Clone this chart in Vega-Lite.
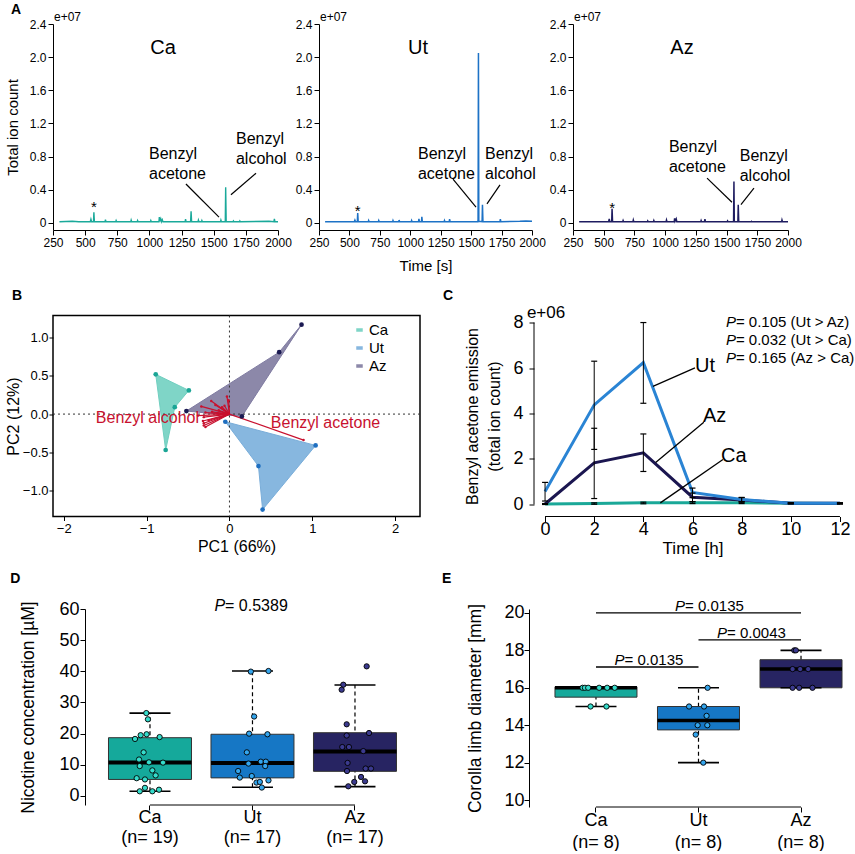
{
"$schema": "https://vega.github.io/schema/vega-lite/v6.json",
"background": "white",
"padding": {"left": 4, "top": 3, "right": 0, "bottom": 0},
"config": {
  "font": "Liberation Sans",
  "view": {"stroke": null},
  "axis": {"grid": false, "domainColor": "#000", "tickColor": "#000", "labelColor": "#000", "titleColor": "#000", "titleFontWeight": "normal", "labelFont": "Liberation Sans", "titleFont": "Liberation Sans", "labelFlush": false, "labelOverlap": false, "domainWidth": 1, "tickWidth": 1, "tickCount": 20},
  "title": {"font": "Liberation Sans", "fontWeight": "bold", "fontSize": 14, "anchor": "start", "frame": "group", "color": "#000"},
  "text": {"font": "Liberation Sans", "color": "#000"}
},
"datasets": {
  "chrom": [
    {"s":"Ca","t":300,"v":0.015},{"s":"Ca","t":400,"v":0.02},{"s":"Ca","t":450,"v":0.015},{"s":"Ca","t":540,"v":0.015},{"s":"Ca","t":545,"v":0.045},{"s":"Ca","t":550,"v":0.015},{"s":"Ca","t":565,"v":0.015},{"s":"Ca","t":568,"v":0.13},{"s":"Ca","t":572,"v":0.015},{"s":"Ca","t":655,"v":0.015},{"s":"Ca","t":658,"v":0.04},{"s":"Ca","t":662,"v":0.015},{"s":"Ca","t":738,"v":0.015},{"s":"Ca","t":741,"v":0.03},{"s":"Ca","t":745,"v":0.015},{"s":"Ca","t":855,"v":0.015},{"s":"Ca","t":858,"v":0.035},{"s":"Ca","t":862,"v":0.015},{"s":"Ca","t":905,"v":0.015},{"s":"Ca","t":908,"v":0.03},{"s":"Ca","t":912,"v":0.015},{"s":"Ca","t":1008,"v":0.015},{"s":"Ca","t":1011,"v":0.03},{"s":"Ca","t":1015,"v":0.015},{"s":"Ca","t":1074,"v":0.015},{"s":"Ca","t":1077,"v":0.07},{"s":"Ca","t":1081,"v":0.02},{"s":"Ca","t":1088,"v":0.05},{"s":"Ca","t":1093,"v":0.015},{"s":"Ca","t":1100,"v":0.04},{"s":"Ca","t":1105,"v":0.015},{"s":"Ca","t":1278,"v":0.015},{"s":"Ca","t":1281,"v":0.045},{"s":"Ca","t":1285,"v":0.015},{"s":"Ca","t":1320,"v":0.015},{"s":"Ca","t":1324,"v":0.14},{"s":"Ca","t":1328,"v":0.015},{"s":"Ca","t":1378,"v":0.015},{"s":"Ca","t":1381,"v":0.035},{"s":"Ca","t":1385,"v":0.015},{"s":"Ca","t":1405,"v":0.015},{"s":"Ca","t":1408,"v":0.03},{"s":"Ca","t":1412,"v":0.015},{"s":"Ca","t":1553,"v":0.015},{"s":"Ca","t":1556,"v":0.035},{"s":"Ca","t":1560,"v":0.015},{"s":"Ca","t":1590,"v":0.015},{"s":"Ca","t":1593,"v":0.43},{"s":"Ca","t":1597,"v":0.015},{"s":"Ca","t":1650,"v":0.015},{"s":"Ca","t":1653,"v":0.025},{"s":"Ca","t":1657,"v":0.015},{"s":"Ca","t":1700,"v":0.015},{"s":"Ca","t":1703,"v":0.025},{"s":"Ca","t":1707,"v":0.015},{"s":"Ca","t":1930,"v":0.02},{"s":"Ca","t":1968,"v":0.015},{"s":"Ca","t":1972,"v":0.05},{"s":"Ca","t":1976,"v":0.015},{"s":"Ca","t":2000,"v":0.015},
    {"s":"Ut","t":300,"v":0.015},{"s":"Ut","t":540,"v":0.015},{"s":"Ut","t":545,"v":0.035},{"s":"Ut","t":550,"v":0.015},{"s":"Ut","t":565,"v":0.015},{"s":"Ut","t":568,"v":0.12},{"s":"Ut","t":572,"v":0.015},{"s":"Ut","t":655,"v":0.015},{"s":"Ut","t":658,"v":0.03},{"s":"Ut","t":662,"v":0.015},{"s":"Ut","t":738,"v":0.015},{"s":"Ut","t":741,"v":0.03},{"s":"Ut","t":745,"v":0.015},{"s":"Ut","t":855,"v":0.015},{"s":"Ut","t":858,"v":0.03},{"s":"Ut","t":862,"v":0.015},{"s":"Ut","t":905,"v":0.015},{"s":"Ut","t":908,"v":0.035},{"s":"Ut","t":912,"v":0.015},{"s":"Ut","t":1008,"v":0.015},{"s":"Ut","t":1011,"v":0.03},{"s":"Ut","t":1015,"v":0.015},{"s":"Ut","t":1068,"v":0.015},{"s":"Ut","t":1071,"v":0.05},{"s":"Ut","t":1075,"v":0.015},{"s":"Ut","t":1092,"v":0.015},{"s":"Ut","t":1095,"v":0.075},{"s":"Ut","t":1099,"v":0.015},{"s":"Ut","t":1278,"v":0.015},{"s":"Ut","t":1281,"v":0.03},{"s":"Ut","t":1285,"v":0.015},{"s":"Ut","t":1320,"v":0.015},{"s":"Ut","t":1323,"v":0.045},{"s":"Ut","t":1327,"v":0.015},{"s":"Ut","t":1555,"v":0.015},{"s":"Ut","t":1557,"v":0.04},{"s":"Ut","t":1560,"v":2.05},{"s":"Ut","t":1563,"v":0.02},{"s":"Ut","t":1590,"v":0.015},{"s":"Ut","t":1593,"v":0.22},{"s":"Ut","t":1597,"v":0.015},{"s":"Ut","t":1737,"v":0.015},{"s":"Ut","t":1740,"v":0.045},{"s":"Ut","t":1744,"v":0.015},{"s":"Ut","t":1900,"v":0.02},{"s":"Ut","t":1950,"v":0.025},{"s":"Ut","t":2000,"v":0.02},
    {"s":"Az","t":300,"v":0.015},{"s":"Az","t":540,"v":0.015},{"s":"Az","t":545,"v":0.05},{"s":"Az","t":550,"v":0.015},{"s":"Az","t":565,"v":0.015},{"s":"Az","t":568,"v":0.17},{"s":"Az","t":572,"v":0.015},{"s":"Az","t":655,"v":0.015},{"s":"Az","t":658,"v":0.03},{"s":"Az","t":662,"v":0.015},{"s":"Az","t":738,"v":0.015},{"s":"Az","t":741,"v":0.035},{"s":"Az","t":745,"v":0.015},{"s":"Az","t":855,"v":0.015},{"s":"Az","t":858,"v":0.025},{"s":"Az","t":862,"v":0.015},{"s":"Az","t":905,"v":0.015},{"s":"Az","t":908,"v":0.03},{"s":"Az","t":912,"v":0.015},{"s":"Az","t":1008,"v":0.015},{"s":"Az","t":1011,"v":0.035},{"s":"Az","t":1015,"v":0.015},{"s":"Az","t":1074,"v":0.015},{"s":"Az","t":1077,"v":0.055},{"s":"Az","t":1081,"v":0.02},{"s":"Az","t":1090,"v":0.05},{"s":"Az","t":1095,"v":0.015},{"s":"Az","t":1290,"v":0.015},{"s":"Az","t":1293,"v":0.03},{"s":"Az","t":1297,"v":0.015},{"s":"Az","t":1320,"v":0.015},{"s":"Az","t":1324,"v":0.045},{"s":"Az","t":1328,"v":0.015},{"s":"Az","t":1505,"v":0.015},{"s":"Az","t":1508,"v":0.025},{"s":"Az","t":1512,"v":0.015},{"s":"Az","t":1557,"v":0.015},{"s":"Az","t":1560,"v":0.5},{"s":"Az","t":1563,"v":0.015},{"s":"Az","t":1592,"v":0.015},{"s":"Az","t":1595,"v":0.22},{"s":"Az","t":1599,"v":0.015},{"s":"Az","t":1700,"v":0.015},{"s":"Az","t":1703,"v":0.02},{"s":"Az","t":1707,"v":0.015},{"s":"Az","t":1948,"v":0.015},{"s":"Az","t":1951,"v":0.035},{"s":"Az","t":1955,"v":0.015},{"s":"Az","t":2000,"v":0.015}
  ],
  "aLead": [
    {"s":"Ca","x":1284,"y":0.47,"x2":1541,"y2":0.07},{"s":"Ca","x":1829,"y":0.60,"x2":1634,"y2":0.34},
    {"s":"Ut","x":1351,"y":0.53,"x2":1540,"y2":0.19},{"s":"Ut","x":1737,"y":0.46,"x2":1630,"y2":0.23},
    {"s":"Az","x":1341,"y":0.54,"x2":1544,"y2":0.25},{"s":"Az","x":1723,"y":0.42,"x2":1617,"y2":0.22}
  ],
  "aLab": [
    {"s":"Ca","x":997,"y":0.93,"label":"Benzyl\nacetone"},{"s":"Ca","x":1673,"y":1.11,"label":"Benzyl\nalcohol"},
    {"s":"Ut","x":1063,"y":0.93,"label":"Benzyl\nacetone"},{"s":"Ut","x":1614,"y":0.93,"label":"Benzyl\nalcohol"},
    {"s":"Az","x":1031,"y":1.01,"label":"Benzyl\nacetone"},{"s":"Az","x":1607,"y":0.91,"label":"Benzyl\nalcohol"}
  ],
  "aStar": [{"s":"Ca","x":568,"y":0.19},{"s":"Ut","x":568,"y":0.14},{"s":"Az","x":568,"y":0.18}],
  "aTitle": [{"s":"Ca","x":1106,"y":2.11},{"s":"Ut","x":1063,"y":2.11},{"s":"Az","x":1137,"y":2.11}],
  "bPoly": [
    {"g":"Ca","o":1,"x":-0.89,"y":0.52},{"g":"Ca","o":2,"x":-0.49,"y":0.31},{"g":"Ca","o":3,"x":-0.66,"y":0.09},{"g":"Ca","o":4,"x":-0.77,"y":-0.47},
    {"g":"Ut","o":1,"x":-0.05,"y":-0.10},{"g":"Ut","o":2,"x":1.04,"y":-0.41},{"g":"Ut","o":3,"x":0.40,"y":-1.25},{"g":"Ut","o":4,"x":0.35,"y":-0.68},
    {"g":"Az","o":1,"x":-0.52,"y":0.04},{"g":"Az","o":2,"x":0.60,"y":0.81},{"g":"Az","o":3,"x":0.87,"y":1.17},{"g":"Az","o":4,"x":0.15,"y":-0.03}
  ],
  "bArrow": [
    {"x":-0.34,"y":0.10},{"x":-0.22,"y":0.17},{"x":-0.17,"y":0.12},{"x":-0.09,"y":0.09},{"x":-0.06,"y":0.11},{"x":-0.03,"y":0.23},{"x":-0.01,"y":0.18},{"x":-0.29,"y":0.02},{"x":-0.31,"y":-0.04},{"x":-0.32,"y":-0.09},{"x":-0.31,"y":-0.12},{"x":-0.31,"y":-0.15},{"x":-0.29,"y":-0.17},{"x":-0.25,"y":-0.08},{"x":-0.21,"y":0.03},{"x":-0.13,"y":0.05},{"x":-0.38,"y":-0.02},{"x":0.895,"y":-0.34}
  ],
  "bLab": [{"x":-0.99,"y":-0.056,"label":"Benzyl alcohol"},{"x":1.16,"y":-0.12,"label":"Benzyl acetone"}],
  "cLine": [
    {"g":"Ca","t":0,"v":0.02},{"g":"Ca","t":2,"v":0.04},{"g":"Ca","t":4,"v":0.07},{"g":"Ca","t":6,"v":0.08},{"g":"Ca","t":8,"v":0.08},{"g":"Ca","t":10,"v":0.05},{"g":"Ca","t":12,"v":0.04},
    {"g":"Az","t":0,"v":0.02},{"g":"Az","t":2,"v":1.83},{"g":"Az","t":4,"v":2.27},{"g":"Az","t":6,"v":0.32},{"g":"Az","t":8,"v":0.2},{"g":"Az","t":10,"v":0.05},{"g":"Az","t":12,"v":0.05},
    {"g":"Ut","t":0,"v":0.57},{"g":"Ut","t":2,"v":4.38},{"g":"Ut","t":4,"v":6.24},{"g":"Ut","t":6,"v":0.53},{"g":"Ut","t":8,"v":0.22},{"g":"Ut","t":10,"v":0.05},{"g":"Ut","t":12,"v":0.05}
  ],
  "cErr": [
    {"g":"Ut","t":0,"lo":0.15,"hi":0.97},{"g":"Ut","t":2,"lo":2.42,"hi":6.3},{"g":"Ut","t":4,"lo":4.45,"hi":8.0},{"g":"Ut","t":6,"lo":0.3,"hi":0.72},{"g":"Ut","t":8,"lo":0.12,"hi":0.31},{"g":"Ut","t":10,"lo":0.03,"hi":0.07},{"g":"Ut","t":12,"lo":0.03,"hi":0.07},
    {"g":"Az","t":0,"lo":0.0,"hi":0.04},{"g":"Az","t":2,"lo":0.26,"hi":3.35},{"g":"Az","t":4,"lo":1.45,"hi":3.1},{"g":"Az","t":6,"lo":0.12,"hi":0.5},{"g":"Az","t":8,"lo":0.1,"hi":0.3},{"g":"Az","t":10,"lo":0.03,"hi":0.07},{"g":"Az","t":12,"lo":0.03,"hi":0.07},
    {"g":"Ca","t":0,"lo":0.0,"hi":0.03},{"g":"Ca","t":2,"lo":0.01,"hi":0.07},{"g":"Ca","t":4,"lo":0.03,"hi":0.1},{"g":"Ca","t":6,"lo":0.04,"hi":0.12},{"g":"Ca","t":8,"lo":0.04,"hi":0.12},{"g":"Ca","t":10,"lo":0.02,"hi":0.08},{"g":"Ca","t":12,"lo":0.02,"hi":0.07}
  ],
  "cLead": [{"x":6.10,"y":6.01,"x2":4.39,"y2":5.19},{"x":6.46,"y":3.62,"x2":4.50,"y2":1.85},{"x":7.24,"y":1.98,"x2":4.69,"y2":0.07}],
  "cLab": [{"x":6.51,"y":6.07,"label":"Ut"},{"x":6.90,"y":3.91,"label":"Az"},{"x":7.68,"y":2.15,"label":"Ca"}],
  "cP": [{"x":7.36,"y":8.01,"r":"= 0.105 (Ut > Az)"},{"x":7.36,"y":7.25,"r":"= 0.032 (Ut > Ca)"},{"x":7.36,"y":6.46,"r":"= 0.165 (Az > Ca)"}],
  "cAxY": [{"x":-0.45,"lo":0,"hi":8}],
  "cAxX": [{"a":0,"b":12,"y":-0.53}],
  "dBox": [{"g":"Ca","q1":5.3,"med":10.7,"q3":18.7,"lo":1.5,"hi":26.6},{"g":"Ut","q1":5.8,"med":10.6,"q3":19.8,"lo":2.8,"hi":40.1},{"g":"Az","q1":7.9,"med":14.3,"q3":20.3,"lo":3.0,"hi":35.6}],
  "dPts": [
    {"g":"Ca","v":26.6,"j":-0.036},{"g":"Ca","v":24.6,"j":-0.02},{"g":"Ca","v":18.3,"j":-0.146},{"g":"Ca","v":19.5,"j":-0.091},{"g":"Ca","v":19.8,"j":-0.033},{"g":"Ca","v":18.9,"j":0.094},{"g":"Ca","v":14.0,"j":-0.062},{"g":"Ca","v":11.7,"j":-0.107},{"g":"Ca","v":10.8,"j":-0.01},{"g":"Ca","v":10.7,"j":0.127},{"g":"Ca","v":9.6,"j":-0.1},{"g":"Ca","v":8.2,"j":0.023},{"g":"Ca","v":6.6,"j":0.055},{"g":"Ca","v":5.7,"j":-0.13},{"g":"Ca","v":5.3,"j":-0.049},{"g":"Ca","v":2.6,"j":-0.049},{"g":"Ca","v":1.5,"j":-0.1},{"g":"Ca","v":1.5,"j":0.023},{"g":"Ca","v":2.0,"j":0.088},
    {"g":"Ut","v":39.9,"j":-0.016},{"g":"Ut","v":40.1,"j":0.156},{"g":"Ut","v":25.5,"j":0.016},{"g":"Ut","v":20.0,"j":-0.033},{"g":"Ut","v":19.8,"j":0.146},{"g":"Ut","v":14.0,"j":-0.055},{"g":"Ut","v":10.4,"j":-0.039},{"g":"Ut","v":11.0,"j":0.081},{"g":"Ut","v":11.0,"j":0.13},{"g":"Ut","v":9.6,"j":0.124},{"g":"Ut","v":8.0,"j":-0.14},{"g":"Ut","v":5.9,"j":-0.124},{"g":"Ut","v":6.4,"j":-0.007},{"g":"Ut","v":4.3,"j":0.039},{"g":"Ut","v":4.5,"j":0.072},{"g":"Ut","v":5.0,"j":0.156},{"g":"Ut","v":2.7,"j":0.091},
    {"g":"Az","v":41.6,"j":0.114},{"g":"Az","v":35.7,"j":-0.114},{"g":"Az","v":34.1,"j":-0.13},{"g":"Az","v":23.0,"j":-0.081},{"g":"Az","v":20.2,"j":0.137},{"g":"Az","v":19.4,"j":-0.081},{"g":"Az","v":15.7,"j":-0.124},{"g":"Az","v":15.7,"j":-0.059},{"g":"Az","v":14.4,"j":0.081},{"g":"Az","v":10.6,"j":-0.072},{"g":"Az","v":8.0,"j":-0.078},{"g":"Az","v":8.8,"j":0.104},{"g":"Az","v":8.8,"j":0.156},{"g":"Az","v":6.1,"j":0.059},{"g":"Az","v":4.5,"j":-0.007},{"g":"Az","v":4.7,"j":0.098},{"g":"Az","v":3.1,"j":-0.065}
  ],
  "dP": [{"g":"Ut","off":-0.37,"y":60.96,"r":"= 0.5389"}],
  "dAx": [{"a":"Ca","b":"Az","y":-2.9}],
  "eBox": [{"g":"Ca","q1":15.5,"med":16,"q3":16.05,"lo":15,"hi":16},{"g":"Ut","q1":13.75,"med":14.25,"q3":15,"lo":12,"hi":16},{"g":"Az","q1":16,"med":17,"q3":17.5,"lo":16,"hi":18}],
  "ePts": [
    {"g":"Ca","v":16,"j":-0.136},{"g":"Ca","v":16,"j":-0.113},{"g":"Ca","v":16,"j":-0.081},{"g":"Ca","v":16,"j":0.026},{"g":"Ca","v":16,"j":0.104},{"g":"Ca","v":16,"j":0.178},{"g":"Ca","v":15,"j":-0.058},{"g":"Ca","v":15,"j":0.097},
    {"g":"Ut","v":16,"j":0.084},{"g":"Ut","v":15,"j":-0.097},{"g":"Ut","v":15,"j":0.049},{"g":"Ut","v":14.5,"j":0.074},{"g":"Ut","v":14,"j":-0.013},{"g":"Ut","v":14,"j":0.081},{"g":"Ut","v":13.5,"j":-0.032},{"g":"Ut","v":12,"j":0.042},
    {"g":"Az","v":18,"j":-0.071},{"g":"Az","v":18,"j":-0.055},{"g":"Az","v":17,"j":-0.087},{"g":"Az","v":17,"j":-0.013},{"g":"Az","v":17,"j":0.065},{"g":"Az","v":16,"j":-0.087},{"g":"Az","v":16,"j":-0.023},{"g":"Az","v":16,"j":0.107}
  ],
  "eAx": [{"a":"Ca","b":"Az","y":9.63}],
  "eSig": [{"a":"Ca","b":"Az","y":20},{"a":"Ut","b":"Az","y":18.56},{"a":"Ca","b":"Ut","y":17.11}],
  "eP": [{"g":"Ut","off":-0.234,"y":20.38,"r":"= 0.0135"},{"g":"Ut","off":0.176,"y":18.93,"r":"= 0.0043"},{"g":"Ca","off":0.176,"y":17.49,"r":"= 0.0135"}]
},
"columns": 1,
"align": "none",
"spacing": 14.5,
"resolve": {"scale": {"color": "independent", "fill": "independent", "stroke": "independent"}},
"concat": [
 {
  "spacing": 3,
  "resolve": {"scale": {"color": "independent", "fill": "independent", "stroke": "independent"}},
  "hconcat": [
   {
    "width": 225, "height": 206,
    "title": {"text": "A", "dx": -42, "offset": -6},
    "layer": [
      {"data": {"name": "chrom"}, "transform": [{"filter": "datum.s == 'Ca'"}],
       "mark": {"type": "line", "strokeWidth": 1.4, "color": "#1aa99a"},
       "encoding": {
         "x": {"field": "t", "type": "quantitative", "scale": {"domain": [250, 2000], "nice": false, "zero": false},
               "axis": {"values": [250,500,750,1000,1250,1500,1750,2000], "tickCount": 20, "format": "d", "labelOverlap": false, "labelFontSize": 12, "tickSize": 5, "labelPadding": 2, "title": null}},
         "y": {"field": "v", "type": "quantitative", "scale": {"domain": [-0.085, 2.4], "nice": false, "zero": false},
               "axis": {"values": [0,0.4,0.8,1.2,1.6,2,2.4], "tickCount": 20, "labelOverlap": false, "labelExpr": "datum.value == 0 ? '0' : format(datum.value, '.1f')", "labelFontSize": 12, "tickSize": 5, "labelPadding": 2, "title": "Total ion count", "titleFontSize": 15, "titlePadding": 9}}
       }},
      {"data": {"name": "aLead"}, "transform": [{"filter": "datum.s == 'Ca'"}], "mark": {"type": "rule", "color": "#000", "strokeWidth": 1.2},
       "encoding": {"x": {"field": "x", "type": "quantitative"}, "y": {"field": "y", "type": "quantitative"}, "x2": {"field": "x2"}, "y2": {"field": "y2"}}},
      {"data": {"name": "aLab"}, "transform": [{"filter": "datum.s == 'Ca'"}], "mark": {"type": "text", "fontSize": 16, "lineBreak": "\n", "lineHeight": 20, "baseline": "top", "align": "left"},
       "encoding": {"x": {"field": "x", "type": "quantitative"}, "y": {"field": "y", "type": "quantitative"}, "text": {"field": "label"}}},
      {"data": {"name": "aStar"}, "transform": [{"filter": "datum.s == 'Ca'"}], "mark": {"type": "text", "text": "*", "fontSize": 15, "baseline": "middle", "align": "center"},
       "encoding": {"x": {"field": "x", "type": "quantitative"}, "y": {"field": "y", "type": "quantitative"}}},
      {"data": {"name": "aTitle"}, "transform": [{"filter": "datum.s == 'Ca'"}], "mark": {"type": "text", "fontSize": 20, "baseline": "middle", "align": "center"},
       "encoding": {"x": {"field": "x", "type": "quantitative"}, "y": {"field": "y", "type": "quantitative"}, "text": {"field": "s"}}},
      {"data": {"values": [{}]}, "mark": {"type": "text", "text": "e+07", "fontSize": 12, "align": "left", "baseline": "middle", "dx": 1, "dy": -7},
       "encoding": {"x": {"datum": 250}, "y": {"datum": 2.4}}}
    ]
   },
   {
    "width": 213, "height": 206,
    "layer": [
      {"data": {"name": "chrom"}, "transform": [{"filter": "datum.s == 'Ut'"}],
       "mark": {"type": "line", "strokeWidth": 1.5, "color": "#1d72c6"},
       "encoding": {
         "x": {"field": "t", "type": "quantitative", "scale": {"domain": [250, 2000], "nice": false, "zero": false},
               "axis": {"values": [250,500,750,1000,1250,1500,1750,2000], "tickCount": 20, "format": "d", "labelOverlap": false, "labelFontSize": 12, "tickSize": 5, "labelPadding": 2, "title": "Time [s]", "titleFontSize": 15, "titlePadding": 10}},
         "y": {"field": "v", "type": "quantitative", "scale": {"domain": [-0.085, 2.4], "nice": false, "zero": false},
               "axis": {"values": [0,0.4,0.8,1.2,1.6,2,2.4], "tickCount": 20, "labelOverlap": false, "labelExpr": "datum.value == 0 ? '0' : format(datum.value, '.1f')", "labelFontSize": 12, "tickSize": 5, "labelPadding": 2, "title": null}}
       }},
      {"data": {"name": "aLead"}, "transform": [{"filter": "datum.s == 'Ut'"}], "mark": {"type": "rule", "color": "#000", "strokeWidth": 1.2},
       "encoding": {"x": {"field": "x", "type": "quantitative"}, "y": {"field": "y", "type": "quantitative"}, "x2": {"field": "x2"}, "y2": {"field": "y2"}}},
      {"data": {"name": "aLab"}, "transform": [{"filter": "datum.s == 'Ut'"}], "mark": {"type": "text", "fontSize": 16, "lineBreak": "\n", "lineHeight": 20, "baseline": "top", "align": "left"},
       "encoding": {"x": {"field": "x", "type": "quantitative"}, "y": {"field": "y", "type": "quantitative"}, "text": {"field": "label"}}},
      {"data": {"name": "aStar"}, "transform": [{"filter": "datum.s == 'Ut'"}], "mark": {"type": "text", "text": "*", "fontSize": 15, "baseline": "middle", "align": "center"},
       "encoding": {"x": {"field": "x", "type": "quantitative"}, "y": {"field": "y", "type": "quantitative"}}},
      {"data": {"name": "aTitle"}, "transform": [{"filter": "datum.s == 'Ut'"}], "mark": {"type": "text", "fontSize": 20, "baseline": "middle", "align": "center"},
       "encoding": {"x": {"field": "x", "type": "quantitative"}, "y": {"field": "y", "type": "quantitative"}, "text": {"field": "s"}}},
      {"data": {"values": [{}]}, "mark": {"type": "text", "text": "e+07", "fontSize": 12, "align": "left", "baseline": "middle", "dx": 1, "dy": -7},
       "encoding": {"x": {"datum": 250}, "y": {"datum": 2.4}}}
    ]
   },
   {
    "width": 215, "height": 206,
    "layer": [
      {"data": {"name": "chrom"}, "transform": [{"filter": "datum.s == 'Az'"}],
       "mark": {"type": "line", "strokeWidth": 1.5, "color": "#1e1c60"},
       "encoding": {
         "x": {"field": "t", "type": "quantitative", "scale": {"domain": [250, 2000], "nice": false, "zero": false},
               "axis": {"values": [250,500,750,1000,1250,1500,1750,2000], "tickCount": 20, "format": "d", "labelOverlap": false, "labelFontSize": 12, "tickSize": 5, "labelPadding": 2, "title": null}},
         "y": {"field": "v", "type": "quantitative", "scale": {"domain": [-0.085, 2.4], "nice": false, "zero": false},
               "axis": {"values": [0,0.4,0.8,1.2,1.6,2,2.4], "tickCount": 20, "labelOverlap": false, "labelExpr": "datum.value == 0 ? '0' : format(datum.value, '.1f')", "labelFontSize": 12, "tickSize": 5, "labelPadding": 2, "title": null}}
       }},
      {"data": {"name": "aLead"}, "transform": [{"filter": "datum.s == 'Az'"}], "mark": {"type": "rule", "color": "#000", "strokeWidth": 1.2},
       "encoding": {"x": {"field": "x", "type": "quantitative"}, "y": {"field": "y", "type": "quantitative"}, "x2": {"field": "x2"}, "y2": {"field": "y2"}}},
      {"data": {"name": "aLab"}, "transform": [{"filter": "datum.s == 'Az'"}], "mark": {"type": "text", "fontSize": 16, "lineBreak": "\n", "lineHeight": 20, "baseline": "top", "align": "left"},
       "encoding": {"x": {"field": "x", "type": "quantitative"}, "y": {"field": "y", "type": "quantitative"}, "text": {"field": "label"}}},
      {"data": {"name": "aStar"}, "transform": [{"filter": "datum.s == 'Az'"}], "mark": {"type": "text", "text": "*", "fontSize": 15, "baseline": "middle", "align": "center"},
       "encoding": {"x": {"field": "x", "type": "quantitative"}, "y": {"field": "y", "type": "quantitative"}}},
      {"data": {"name": "aTitle"}, "transform": [{"filter": "datum.s == 'Az'"}], "mark": {"type": "text", "fontSize": 20, "baseline": "middle", "align": "center"},
       "encoding": {"x": {"field": "x", "type": "quantitative"}, "y": {"field": "y", "type": "quantitative"}, "text": {"field": "s"}}},
      {"data": {"values": [{}]}, "mark": {"type": "text", "text": "e+07", "fontSize": 12, "align": "left", "baseline": "middle", "dx": 1, "dy": -7},
       "encoding": {"x": {"datum": 250}, "y": {"datum": 2.4}}}
    ]
   }
  ]
 },
 {
  "spacing": 21,
  "resolve": {"scale": {"color": "independent", "fill": "independent", "stroke": "independent"}},
  "hconcat": [
   {
    "width": 367, "height": 201,
    "view": {"stroke": "#000", "strokeWidth": 1.5},
    "title": {"text": "B", "dx": -41, "offset": 12},
    "layer": [
      {"data": {"name": "bPoly"}, "mark": {"type": "line", "interpolate": "linear-closed", "strokeWidth": 1},
       "encoding": {
         "x": {"field": "x", "type": "quantitative", "scale": {"domain": [-2.13, 2.3], "nice": false, "zero": false},
               "axis": {"values": [-2,-1,0,1,2], "format": "d", "labelOverlap": false, "labelFontSize": 13, "tickSize": 4, "labelPadding": 2, "title": "PC1 (66%)", "titleFontSize": 16, "titlePadding": 3, "domain": false}},
         "y": {"field": "y", "type": "quantitative", "scale": {"domain": [-1.34, 1.29], "nice": false, "zero": false},
               "axis": {"values": [-1,-0.5,0,0.5,1], "format": ".1f", "labelOverlap": false, "labelFontSize": 13, "tickSize": 4, "labelPadding": 1, "title": "PC2 (12%)", "titleFontSize": 16, "titlePadding": 1, "domain": false}},
         "order": {"field": "o"},
         "fill": {"field": "g", "type": "nominal", "scale": {"domain": ["Ca","Ut","Az"], "range": ["#7fd5c7","#87b7df","#8c88a9"]},
                  "legend": {"title": null, "orient": "none", "legendX": 299, "legendY": 7, "symbolType": "M-0.5,-0.27L0.5,-0.27L0.5,0.27L-0.5,0.27Z", "symbolSize": 169, "symbolStrokeWidth": 0, "labelFontSize": 15, "labelOffset": 2, "rowPadding": 2, "padding": 0}},
         "stroke": {"field": "g", "type": "nominal", "scale": {"domain": ["Ca","Ut","Az"], "range": ["#70cfc0","#79add9","#7f7ba1"]}, "legend": null}
       }},
      {"data": {"values": [{}]}, "mark": {"type": "rule", "strokeDash": [2,3], "color": "#333", "strokeWidth": 1}, "encoding": {"x": {"datum": 0}}},
      {"data": {"values": [{}]}, "mark": {"type": "rule", "strokeDash": [2,3], "color": "#333", "strokeWidth": 1}, "encoding": {"y": {"datum": 0}}},
      {"data": {"name": "bArrow"}, "mark": {"type": "rule", "color": "#c8102e", "strokeWidth": 1.2},
       "encoding": {"x": {"field": "x", "type": "quantitative"}, "y": {"field": "y", "type": "quantitative"}, "x2": {"datum": 0}, "y2": {"datum": 0}}},
      {"data": {"name": "bArrow"}, "mark": {"type": "circle", "color": "#c8102e", "size": 6, "opacity": 1},
       "encoding": {"x": {"field": "x", "type": "quantitative"}, "y": {"field": "y", "type": "quantitative"}}},
      {"data": {"name": "bPoly"}, "mark": {"type": "circle", "size": 22, "opacity": 1},
       "encoding": {"x": {"field": "x", "type": "quantitative"}, "y": {"field": "y", "type": "quantitative"},
                    "color": {"field": "g", "type": "nominal", "scale": {"domain": ["Ca","Ut","Az"], "range": ["#1aa595","#1f6fc0","#1b1a52"]}, "legend": null}}},
      {"data": {"name": "bLab"}, "mark": {"type": "text", "color": "#c8102e", "fontSize": 16, "align": "center", "baseline": "middle"},
       "encoding": {"x": {"field": "x", "type": "quantitative"}, "y": {"field": "y", "type": "quantitative"}, "text": {"field": "label"}}}
    ]
   },
   {
    "width": 317, "height": 201,
    "title": {"text": "C", "dx": -91, "offset": 0.5},
    "layer": [
      {"data": {"name": "cLine"}, "mark": {"type": "line", "strokeWidth": 3},
       "encoding": {
         "x": {"field": "t", "type": "quantitative", "scale": {"domain": [-0.45, 12.45], "nice": false, "zero": false},
               "axis": {"values": [0,2,4,6,8,10,12], "format": "d", "labelOverlap": false, "domain": false, "labelFontSize": 18, "tickSize": 5, "labelPadding": -1, "title": "Time [h]", "titleFontSize": 17, "titlePadding": 2}},
         "y": {"field": "v", "type": "quantitative", "scale": {"domain": [-0.53, 8.31], "nice": false, "zero": false},
               "axis": {"values": [0,2,4,6,8], "format": "d", "labelOverlap": false, "domain": false, "labelFontSize": 18, "tickSize": 5, "labelPadding": 6, "title": ["Benzyl acetone emission", "(total ion count)"], "titleFontSize": 16, "titleLineHeight": 22, "titlePadding": 10}},
         "color": {"field": "g", "type": "nominal", "scale": {"domain": ["Ca","Az","Ut"], "range": ["#1aa898","#1b1650","#2a84d4"]}, "legend": null}
       }},
      {"data": {"name": "cAxY"}, "mark": {"type": "rule", "color": "#000", "strokeWidth": 1},
       "encoding": {"x": {"field": "x", "type": "quantitative"}, "y": {"field": "lo", "type": "quantitative"}, "y2": {"field": "hi"}}},
      {"data": {"name": "cAxX"}, "mark": {"type": "rule", "color": "#000", "strokeWidth": 1},
       "encoding": {"x": {"field": "a", "type": "quantitative"}, "x2": {"field": "b"}, "y": {"field": "y", "type": "quantitative"}}},
      {"data": {"name": "cErr"}, "mark": {"type": "rule", "color": "#000", "strokeWidth": 1},
       "encoding": {"x": {"field": "t", "type": "quantitative"}, "y": {"field": "lo", "type": "quantitative"}, "y2": {"field": "hi"}}},
      {"data": {"name": "cErr"}, "mark": {"type": "tick", "orient": "horizontal", "color": "#000", "size": 6, "thickness": 1.2, "opacity": 1},
       "encoding": {"x": {"field": "t", "type": "quantitative"}, "y": {"field": "lo", "type": "quantitative"}}},
      {"data": {"name": "cErr"}, "mark": {"type": "tick", "orient": "horizontal", "color": "#000", "size": 6, "thickness": 1.2, "opacity": 1},
       "encoding": {"x": {"field": "t", "type": "quantitative"}, "y": {"field": "hi", "type": "quantitative"}}},
      {"data": {"name": "cLead"}, "mark": {"type": "rule", "color": "#000", "strokeWidth": 1.3},
       "encoding": {"x": {"field": "x", "type": "quantitative"}, "y": {"field": "y", "type": "quantitative"}, "x2": {"field": "x2"}, "y2": {"field": "y2"}}},
      {"data": {"name": "cLab"}, "mark": {"type": "text", "fontSize": 20, "align": "center", "baseline": "middle"},
       "encoding": {"x": {"field": "x", "type": "quantitative"}, "y": {"field": "y", "type": "quantitative"}, "text": {"field": "label"}}},
      {"data": {"name": "cP"}, "mark": {"type": "text", "text": "P", "fontStyle": "italic", "fontSize": 15, "align": "left", "baseline": "middle"},
       "encoding": {"x": {"field": "x", "type": "quantitative"}, "y": {"field": "y", "type": "quantitative"}}},
      {"data": {"name": "cP"}, "mark": {"type": "text", "fontSize": 15, "align": "left", "baseline": "middle", "dx": 10},
       "encoding": {"x": {"field": "x", "type": "quantitative"}, "y": {"field": "y", "type": "quantitative"}, "text": {"field": "r"}}},
      {"data": {"values": [{}]}, "mark": {"type": "text", "text": "e+06", "fontSize": 17, "align": "center", "baseline": "middle", "dy": -3},
       "encoding": {"x": {"datum": 0.04}, "y": {"datum": 8.31}}}
    ]
   }
  ]
 },
 {
  "spacing": 2,
  "resolve": {"scale": {"color": "independent", "fill": "independent", "stroke": "independent"}},
  "hconcat": [
   {
    "width": 0.5, "height": 196,
    "title": {"text": "D", "dx": -42.7, "offset": 15},
    "data": {"values": [{}]},
    "mark": {"type": "point", "opacity": 0},
    "encoding": {
      "y": {"datum": 0, "type": "quantitative", "scale": {"domain": [-2.9, 60], "nice": false, "zero": false},
            "axis": {"title": "Nicotine concentration [µM]", "labels": false, "ticks": false, "domain": false, "titleFontSize": 17.5, "titlePadding": 16}}
    }
   },
   {
    "width": 320, "height": 196,
    "layer": [
      {"data": {"name": "dBox"}, "mark": {"type": "rule", "color": "#000", "strokeWidth": 1.2, "strokeDash": [4,3]},
       "encoding": {
         "x": {"field": "g", "type": "nominal", "scale": {"domain": ["Ca","Ut","Az"], "paddingInner": 0.19, "paddingOuter": 0.156, "align": 0.734},
               "axis": {"domain": false, "labelAngle": 0, "labelFontSize": 18, "labelLineHeight": 20, "tickSize": 5, "labelPadding": -2, "title": null,
                        "labelExpr": "datum.value == 'Ca' ? ['Ca', '(n= 19)'] : datum.value == 'Ut' ? ['Ut', '(n= 17)'] : ['Az', '(n= 17)']"}},
         "y": {"field": "lo", "type": "quantitative", "scale": {"domain": [-2.9, 60], "nice": false, "zero": false},
               "axis": {"values": [0,10,20,30,40,50,60], "format": "d", "tickCount": 20, "labelOverlap": false, "labelFontSize": 18, "tickSize": 5, "labelPadding": 1, "title": null}},
         "y2": {"field": "hi"}
       }},
      {"data": {"name": "dBox"}, "mark": {"type": "bar", "stroke": "#333", "strokeWidth": 1, "width": 83},
       "encoding": {"x": {"field": "g", "type": "nominal"}, "y": {"field": "q1", "type": "quantitative"}, "y2": {"field": "q3"},
                    "color": {"field": "g", "type": "nominal", "scale": {"domain": ["Ca","Ut","Az"], "range": ["#15a99b","#1677c5","#272462"]}, "legend": null}}},
      {"data": {"name": "dBox"}, "mark": {"type": "tick", "orient": "horizontal", "color": "#000", "size": 83, "thickness": 4, "opacity": 1},
       "encoding": {"x": {"field": "g", "type": "nominal"}, "y": {"field": "med", "type": "quantitative"}}},
      {"data": {"name": "dBox"}, "mark": {"type": "tick", "orient": "horizontal", "color": "#000", "size": 41, "thickness": 1.6, "opacity": 1},
       "encoding": {"x": {"field": "g", "type": "nominal"}, "y": {"field": "lo", "type": "quantitative"}}},
      {"data": {"name": "dBox"}, "mark": {"type": "tick", "orient": "horizontal", "color": "#000", "size": 41, "thickness": 1.6, "opacity": 1},
       "encoding": {"x": {"field": "g", "type": "nominal"}, "y": {"field": "hi", "type": "quantitative"}}},
      {"data": {"name": "dPts"}, "mark": {"type": "circle", "size": 28, "stroke": "#000", "strokeWidth": 0.9, "opacity": 1},
       "encoding": {"x": {"field": "g", "type": "nominal"}, "xOffset": {"field": "j", "type": "quantitative", "scale": {"domain": [-0.405, 0.405]}},
                    "y": {"field": "v", "type": "quantitative"},
                    "fill": {"field": "g", "type": "nominal", "scale": {"domain": ["Ca","Ut","Az"], "range": ["#35dccb","#34a6ee","#3b3a8e"]}, "legend": null}}},
      {"data": {"name": "dAx"}, "mark": {"type": "rule", "color": "#000", "strokeWidth": 1},
       "encoding": {"x": {"field": "a", "type": "nominal"}, "x2": {"field": "b"}, "y": {"field": "y", "type": "quantitative"}}},
      {"data": {"name": "dP"}, "mark": {"type": "text", "text": "P", "fontStyle": "italic", "fontSize": 16, "align": "left", "baseline": "middle"},
       "encoding": {"x": {"field": "g", "type": "nominal"}, "xOffset": {"field": "off", "type": "quantitative"}, "y": {"field": "y", "type": "quantitative"}}},
      {"data": {"name": "dP"}, "mark": {"type": "text", "fontSize": 16, "align": "left", "baseline": "middle", "dx": 10.5},
       "encoding": {"x": {"field": "g", "type": "nominal"}, "xOffset": {"field": "off", "type": "quantitative"}, "y": {"field": "y", "type": "quantitative"}, "text": {"field": "r"}}}
    ]
   },
   {
    "width": 32.5, "height": 10,
    "data": {"values": [{}]},
    "mark": {"type": "point", "opacity": 0}
   },
   {
    "width": 318, "height": 198,
    "title": {"text": "E", "dx": -87, "offset": 13},
    "layer": [
      {"data": {"name": "eBox"}, "mark": {"type": "rule", "color": "#000", "strokeWidth": 1.2, "strokeDash": [4,3]},
       "encoding": {
         "x": {"field": "g", "type": "nominal", "scale": {"domain": ["Ca","Ut","Az"], "paddingInner": 0.2, "paddingOuter": 0.151, "align": 0.839},
               "axis": {"domain": false, "labelAngle": 0, "labelFontSize": 18, "labelLineHeight": 22, "tickSize": 5, "labelPadding": -1, "title": null,
                        "labelExpr": "datum.value == 'Ca' ? ['Ca', '(n= 8)'] : datum.value == 'Ut' ? ['Ut', '(n= 8)'] : ['Az', '(n= 8)']"}},
         "y": {"field": "lo", "type": "quantitative", "scale": {"domain": [9.63, 20.21], "nice": false, "zero": false},
               "axis": {"values": [10,12,14,16,18,20], "format": "d", "tickCount": 20, "labelOverlap": false, "labelFontSize": 18, "tickSize": 5, "labelPadding": 0, "title": "Corolla limb diameter [mm]", "titleFontSize": 17.5, "titlePadding": 19}},
         "y2": {"field": "hi"}
       }},
      {"data": {"name": "eBox"}, "mark": {"type": "bar", "stroke": "#333", "strokeWidth": 1, "width": 82},
       "encoding": {"x": {"field": "g", "type": "nominal"}, "y": {"field": "q1", "type": "quantitative"}, "y2": {"field": "q3"},
                    "color": {"field": "g", "type": "nominal", "scale": {"domain": ["Ca","Ut","Az"], "range": ["#15a99b","#1677c5","#272462"]}, "legend": null}}},
      {"data": {"name": "eBox"}, "mark": {"type": "tick", "orient": "horizontal", "color": "#000", "size": 82, "thickness": 3.5, "opacity": 1},
       "encoding": {"x": {"field": "g", "type": "nominal"}, "y": {"field": "med", "type": "quantitative"}}},
      {"data": {"name": "eBox"}, "mark": {"type": "tick", "orient": "horizontal", "color": "#000", "size": 41, "thickness": 1.6, "opacity": 1},
       "encoding": {"x": {"field": "g", "type": "nominal"}, "y": {"field": "lo", "type": "quantitative"}}},
      {"data": {"name": "eBox"}, "mark": {"type": "tick", "orient": "horizontal", "color": "#000", "size": 41, "thickness": 1.6, "opacity": 1},
       "encoding": {"x": {"field": "g", "type": "nominal"}, "y": {"field": "hi", "type": "quantitative"}}},
      {"data": {"name": "ePts"}, "mark": {"type": "circle", "size": 28, "stroke": "#000", "strokeWidth": 0.9, "opacity": 1},
       "encoding": {"x": {"field": "g", "type": "nominal"}, "xOffset": {"field": "j", "type": "quantitative", "scale": {"domain": [-0.4, 0.4]}},
                    "y": {"field": "v", "type": "quantitative"},
                    "fill": {"field": "g", "type": "nominal", "scale": {"domain": ["Ca","Ut","Az"], "range": ["#35dccb","#34a6ee","#3b3a8e"]}, "legend": null}}},
      {"data": {"name": "eAx"}, "mark": {"type": "rule", "color": "#000", "strokeWidth": 1},
       "encoding": {"x": {"field": "a", "type": "nominal"}, "x2": {"field": "b"}, "y": {"field": "y", "type": "quantitative"}}},
      {"data": {"name": "eSig"}, "mark": {"type": "rule", "color": "#000", "strokeWidth": 1.3},
       "encoding": {"x": {"field": "a", "type": "nominal"}, "x2": {"field": "b"}, "y": {"field": "y", "type": "quantitative"}}},
      {"data": {"name": "eP"}, "mark": {"type": "text", "text": "P", "fontStyle": "italic", "fontSize": 15, "align": "left", "baseline": "middle"},
       "encoding": {"x": {"field": "g", "type": "nominal"}, "xOffset": {"field": "off", "type": "quantitative"}, "y": {"field": "y", "type": "quantitative"}}},
      {"data": {"name": "eP"}, "mark": {"type": "text", "fontSize": 15, "align": "left", "baseline": "middle", "dx": 10},
       "encoding": {"x": {"field": "g", "type": "nominal"}, "xOffset": {"field": "off", "type": "quantitative"}, "y": {"field": "y", "type": "quantitative"}, "text": {"field": "r"}}}
    ]
   }
  ]
 }
]
}
